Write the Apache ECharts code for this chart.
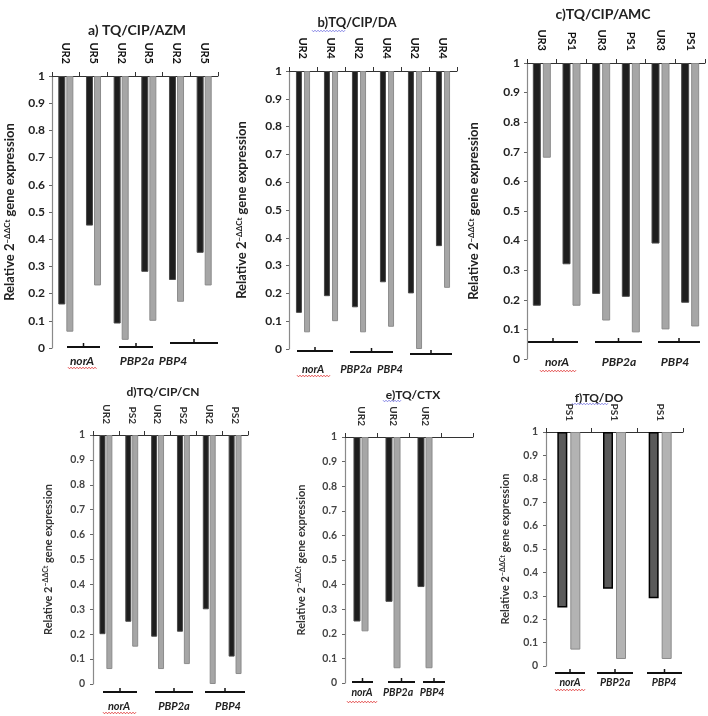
<!DOCTYPE html>
<html><head><meta charset="utf-8">
<script src="https://cdn.jsdelivr.net/npm/echarts@6/dist/echarts.min.js"></script>
<style>html,body{margin:0;padding:0;background:#fff}#c{width:708px;height:716px}</style>
</head><body><div id="c"></div><script>
// ---- data ----
const genes = ['norA', 'PBP2a', 'PBP4'];
const aLabels = ['UR2','UR5','UR2','UR5','UR2','UR5'];
const aBlack = [0.16, 0.45, 0.09, 0.28, 0.25, 0.35];
const aGray  = [0.06, 0.23, 0.03, 0.10, 0.17, 0.23];
const bLabels = ['UR2','UR4','UR2','UR4','UR2','UR4'];
const bBlack = [0.13, 0.19, 0.15, 0.24, 0.20, 0.37];
const bGray  = [0.06, 0.10, 0.06, 0.08, 0.00, 0.22];
const cLabels = ['UR3','PS1','UR3','PS1','UR3','PS1'];
const cBlack = [0.18, 0.32, 0.22, 0.21, 0.39, 0.19];
const cGray  = [0.68, 0.18, 0.13, 0.09, 0.10, 0.11];
const dLabels = ['UR2','PS2','UR2','PS2','UR2','PS2'];
const dBlack = [0.20, 0.25, 0.19, 0.21, 0.30, 0.11];
const dGray  = [0.06, 0.15, 0.06, 0.08, 0.00, 0.04];
const eLabels = ['UR2','UR2','UR2',''];
const eBlack = [0.25, 0.33, 0.39];
const eGray  = [0.21, 0.06, 0.06];
const fLabels = ['PS1','PS1','PS1'];
const fBlack = [0.25, 0.33, 0.29];
const fGray  = [0.07, 0.03, 0.03];
const yTicks = { min: 0, max: 1, interval: 0.1 };
const titles = ['a) TQ/CIP/AZM', 'b)TQ/CIP/DA', 'c)TQ/CIP/AMC', 'd)TQ/CIP/CN', 'e)TQ/CTX', 'f)TQ/DO'];

// ---- layout / style ----
const FONT = 'Lato, "Open Sans", sans-serif';
const panels = [
  {labels:aLabels, black:aBlack, gray:aGray, grid:{left:52,top:76,width:166,height:272}, big:true, barW:7, gap:'15%', nameGap:35,
   t:[137,30,14], br:[[67,100,347],[119,153,347],[170,218,343]], gl:[[82,361],[137,361],[173,361]], gs:12, red:[68,97,368]},
  {labels:bLabels, black:bBlack, gray:bGray, grid:{left:289,top:71,width:168,height:278}, big:true, barW:6, gap:'35%', nameGap:40,
   t:[357,23,13], br:[[297,333,351],[350,393,352],[410,452,354]], gl:[[313,369],[356,369],[390,369]], gs:11, red:[297,330,376], blue:[312,345,31]},
  {labels:cLabels, black:cBlack, gray:cGray, grid:{left:527,top:63,width:178,height:296}, big:true, barW:8, gap:'25%', nameGap:46,
   t:[603,14,14], br:[[528,578,342],[595,642,342],[658,700,342]], gl:[[557,362],[619,362],[675,362]], gs:12, red:[540,577,371]},
  {labels:dLabels, black:dBlack, gray:dGray, grid:{left:93,top:435,width:155,height:249}, big:false, barW:6, gap:'15%', nameGap:38,
   t:[163,392,12], br:[[103,137,692],[155,193,692],[205,245,692]], gl:[[119,706],[174,706],[228,706]], gs:11, red:[103,137,713]},
  {labels:eLabels, black:eBlack, gray:eGray, grid:{left:345,top:437,width:128,height:246}, big:false, barW:7, gap:'15%', nameGap:37,
   t:[413,395,12], br:[[352,373,682],[388,415,682],[423,445,682]], gl:[[362,693],[398,693],[432,693]], gs:10.5, red:[347,377,702], blue:[383,402,401]},
  {labels:fLabels, black:fBlack, gray:fGray, grid:{left:546,top:432,width:137,height:234}, big:false, barW:10, gap:'30%', nameGap:34, dark:true,
   t:[599,398,12], br:[[555,585,673],[597,633,673],[647,682,673]], gl:[[570,683],[615,683],[664,683]], gs:10.5, red:[555,585,690], blue:[572,608,404]}
];

function wavy(x1, x2, y, color) {
  const pts = []; let up = true;
  for (let x = x1; x <= x2; x += 1.5) { pts.push([x, y + (up ? -0.8 : 0.8)]); up = !up; }
  return {type:'polyline', shape:{points:pts}, style:{stroke:color, lineWidth:0.8, fill:null}, silent:true};
}

const grid = [], xAxis = [], yAxis = [], series = [], graphic = [];
panels.forEach((p, i) => {
  grid.push(Object.assign({containLabel:false}, p.grid));
  xAxis.push({
    type:'category', gridIndex:i, position:'top', data:p.labels,
    axisLine:{onZero:false, lineStyle:{color:'#333', width:1}},
    axisTick:{show:true, length:4, lineStyle:{color:'#333'}},
    axisLabel:{rotate:90, margin:p.big ? 12 : 11, fontSize:p.big ? 11 : 10, fontWeight:'bold', color:p.big ? '#111' : '#333', fontFamily:FONT, interval:0}
  });
  yAxis.push({
    type:'value', gridIndex:i, min:yTicks.min, max:yTicks.max, interval:yTicks.interval,
    axisLine:{show:true, lineStyle:{color:'#8a8a8a', width:1.2}},
    axisTick:{show:true, length:3, lineStyle:{color:'#666'}},
    splitLine:{show:false},
    axisLabel:{fontSize:p.big ? 12 : 10.5, fontWeight:'bold', color:p.big ? '#222' : '#444', margin:p.big ? 7 : 8, fontFamily:FONT},
    name:'Relative 2{s|−ΔΔCt} gene expression', nameLocation:'middle', nameRotate:90, nameGap:p.nameGap,
    nameTextStyle:{fontSize:p.big ? 13 : 11, fontWeight:'bold', color:p.big ? '#222' : '#333', fontFamily:FONT,
      rich:{s:{fontSize:p.big ? 8 : 7, fontWeight:'bold', color:p.big ? '#222' : '#333', fontFamily:FONT, verticalAlign:'top', padding:[0,0,6,0]}}}
  });
  const kCol = p.dark ? '#5a5a5a' : '#1e1e1e', kBor = p.dark ? '#000' : '#4a4a4a';
  const gCol = p.dark ? '#b3b3b3' : '#a6a6a6', gBor = p.dark ? '#8a8a8a' : '#8c8c8c';
  const common = {type:'bar', xAxisIndex:i, yAxisIndex:i, barWidth:p.barW, barGap:p.gap, animation:false};
  series.push(Object.assign({}, common, {stack:'k'+i, data:p.black, silent:true, itemStyle:{color:'transparent'}}));
  series.push(Object.assign({}, common, {stack:'k'+i, data:p.black.map(v => +(1 - v).toFixed(4)),
    itemStyle:{color:kCol, borderColor:kBor, borderWidth:p.dark ? 1.5 : 1}}));
  series.push(Object.assign({}, common, {stack:'g'+i, data:p.gray, silent:true, itemStyle:{color:'transparent'}}));
  series.push(Object.assign({}, common, {stack:'g'+i, data:p.gray.map(v => +(1 - v).toFixed(4)),
    itemStyle:{color:gCol, borderColor:gBor, borderWidth:1}}));

  // title
  graphic.push({type:'text', x:p.t[0], y:p.t[1], silent:true,
    style:{text:titles[i], fill:'#222', font:'bold ' + p.t[2] + 'px ' + FONT, align:'center', verticalAlign:'middle'}});
  // brackets + gene labels
  p.br.forEach((b, j) => {
    graphic.push({type:'line', silent:true, shape:{x1:b[0], y1:b[2], x2:b[1], y2:b[2]}, style:{stroke:'#111', lineWidth:2}});
    const cx = (b[0] + b[1]) / 2;
    graphic.push({type:'line', silent:true, shape:{x1:cx, y1:b[2] - 4, x2:cx, y2:b[2]}, style:{stroke:'#111', lineWidth:1.5}});
    graphic.push({type:'text', x:p.gl[j][0], y:p.gl[j][1], silent:true,
      style:{text:genes[j], fill:'#222', font:'italic bold ' + p.gs + 'px ' + FONT, align:'center', verticalAlign:'middle'}});
  });
  if (p.red) graphic.push(wavy(p.red[0], p.red[1], p.red[2], '#d22'));
  if (p.blue) graphic.push(wavy(p.blue[0], p.blue[1], p.blue[2], '#6a6adf'));
});

const chart = echarts.init(document.getElementById('c'), null, {renderer:'canvas'});
chart.setOption({backgroundColor:'#fff', animation:false, grid, xAxis, yAxis, series, graphic});
</script></body></html>
